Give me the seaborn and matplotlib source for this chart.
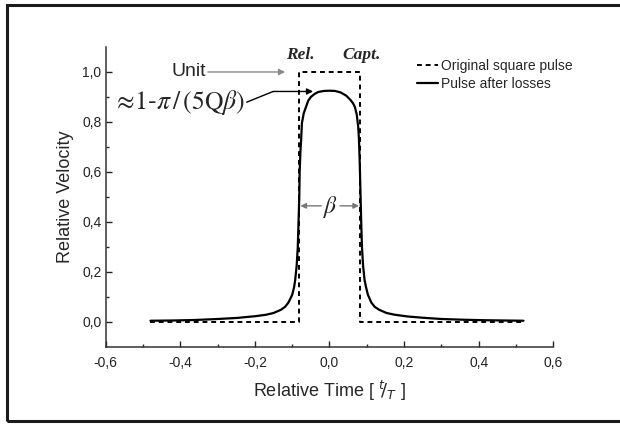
import matplotlib
matplotlib.use("Agg")
import matplotlib.pyplot as plt
from matplotlib.patches import Rectangle
import seaborn as sns
import pandas as pd

# ---- data ----
square_x = [-0.48, -0.083, -0.083, 0.083, 0.083, 0.52]
square_y = [0.0, 0.0, 1.0, 1.0, 0.0, 0.0]

pulse_x = [-0.48, -0.42, -0.36, -0.30, -0.25, -0.20, -0.17, -0.15, -0.13, -0.119,
           -0.11, -0.10, -0.095, -0.092, -0.088, -0.085, -0.083, -0.081, -0.080,
           -0.078, -0.076, -0.074, -0.069, -0.063, -0.057, -0.05, -0.04, -0.03,
           -0.015, 0.0,
           0.015, 0.03, 0.045, 0.055, 0.063, 0.068, 0.073, 0.077, 0.079, 0.081,
           0.083, 0.085, 0.087, 0.090, 0.094, 0.098, 0.103, 0.112, 0.121, 0.133,
           0.153, 0.175, 0.21, 0.25, 0.30, 0.36, 0.42, 0.52]
pulse_y = [0.004, 0.005, 0.007, 0.011, 0.015, 0.022, 0.028, 0.035, 0.048, 0.06,
           0.077, 0.108, 0.138, 0.167, 0.225, 0.30, 0.40, 0.50, 0.60,
           0.68, 0.73, 0.795, 0.835, 0.86, 0.885, 0.90, 0.912, 0.92,
           0.924, 0.925,
           0.924, 0.918, 0.905, 0.89, 0.875, 0.86, 0.83, 0.78, 0.73, 0.64,
           0.52, 0.40, 0.30, 0.225, 0.167, 0.138, 0.108, 0.077, 0.06, 0.048,
           0.035, 0.028, 0.021, 0.016, 0.011, 0.008, 0.006, 0.004]

xticks = [-0.6, -0.4, -0.2, 0.0, 0.2, 0.4, 0.6]
yticks = [0.0, 0.2, 0.4, 0.6, 0.8, 1.0]

sq = pd.DataFrame({"t": square_x, "v": square_y})
pl = pd.DataFrame({"t": pulse_x, "v": pulse_y})

sns.set_style("ticks")
plt.rcParams["font.family"] = ["Liberation Sans", "DejaVu Sans"]

fig = plt.figure(figsize=(6.2, 4.25), dpi=100)
ax = fig.add_axes([0.1705, 0.1842, 0.7219, 0.7052])

sns.lineplot(data=sq, x="t", y="v", ax=ax, estimator=None, sort=False,
             color="black", lw=1.4, linestyle=(0, (2.5, 2)),
             label="Original square pulse")
sns.lineplot(data=pl, x="t", y="v", ax=ax, estimator=None, sort=False,
             color="black", lw=1.6, label="Pulse after losses")

ax.set_xlim(-0.6, 0.6)
ax.set_ylim(-0.1, 1.1)
ax.set_xticks(xticks)
ax.set_yticks(yticks)
ax.set_xticks([-0.5, -0.3, -0.1, 0.1, 0.3, 0.5], minor=True)
ax.set_yticks([0.1, 0.3, 0.5, 0.7, 0.9], minor=True)
ax.set_xticklabels([f"{v:.1f}".replace(".", ",") for v in xticks])
ax.set_yticklabels([f"{v:.1f}".replace(".", ",") for v in yticks])
ax.tick_params(which="major", direction="in", length=4.5, width=1.0,
               labelsize=10, colors="#222222")
ax.tick_params(which="minor", direction="in", length=2.2, width=1.0)
ax.tick_params(axis="x", which="major", pad=7)
ax.tick_params(axis="y", which="major", pad=3)
sns.despine(ax=ax)
for s in ("left", "bottom"):
    ax.spines[s].set_linewidth(1.1)
    ax.spines[s].set_color("#333333")

ax.set_ylabel("Relative Velocity", fontsize=13, labelpad=6)
ax.set_xlabel(r"Relative Time [ $^{t}\!/_{T}$ ]", fontsize=13, labelpad=6)

# legend
leg = ax.legend(loc="upper left", bbox_to_anchor=(417 / 620, (425 - 59) / 425),
                bbox_transform=fig.transFigure, frameon=False, fontsize=10,
                handlelength=1.5, handletextpad=0.25, labelspacing=0.3,
                borderpad=0, borderaxespad=0)

# annotations
ax.text(-0.079, 1.067, "Rel.", fontsize=12.5, fontweight="bold", fontstyle="italic",
        family=["Liberation Serif"], ha="center", va="center")
ax.text(0.087, 1.067, "Capt.", fontsize=12.5, fontweight="bold", fontstyle="italic",
        family=["Liberation Serif"], ha="center", va="center")

ax.text(-0.331, 1.0, "Unit", fontsize=14, ha="right", va="center")
ax.annotate("", xy=(-0.119, 1.0), xytext=(-0.326, 1.0),
            arrowprops=dict(arrowstyle="-|>", color="#888888", lw=1.0,
                            mutation_scale=9, shrinkA=0, shrinkB=0))

ax.text(-0.226, 0.879, r"$\approx\!1$-$\pi\,/\,(5\mathrm{Q}\beta)$",
        fontsize=18.5, ha="right", va="center", math_fontfamily="stix")
ax.annotate("", xy=(-0.151, 0.922), xytext=(-0.222, 0.879),
            arrowprops=dict(arrowstyle="-", color="black", lw=1.0,
                            shrinkA=0, shrinkB=0))
ax.annotate("", xy=(-0.044, 0.922), xytext=(-0.151, 0.922),
            arrowprops=dict(arrowstyle="-|>", color="black", lw=1.0,
                            mutation_scale=9, shrinkA=0, shrinkB=0))

ax.text(0.003, 0.46, r"$\beta$", fontsize=17, ha="center", va="center",
        math_fontfamily="stix")
ax.annotate("", xy=(-0.078, 0.464), xytext=(-0.022, 0.464),
            arrowprops=dict(arrowstyle="-|>", color="#777777", lw=1.0,
                            mutation_scale=8, shrinkA=0, shrinkB=0))
ax.annotate("", xy=(0.079, 0.464), xytext=(0.028, 0.464),
            arrowprops=dict(arrowstyle="-|>", color="#777777", lw=1.0,
                            mutation_scale=8, shrinkA=0, shrinkB=0))

# frame border
fig.patches.append(Rectangle((7.3 / 620, (425 - 420.7) / 425), 1.05,
                             (420.7 - 5.3) / 425, transform=fig.transFigure,
                             fill=False, edgecolor="#1a1a1a", lw=2.2))

fig.savefig("out.png", dpi=100)
